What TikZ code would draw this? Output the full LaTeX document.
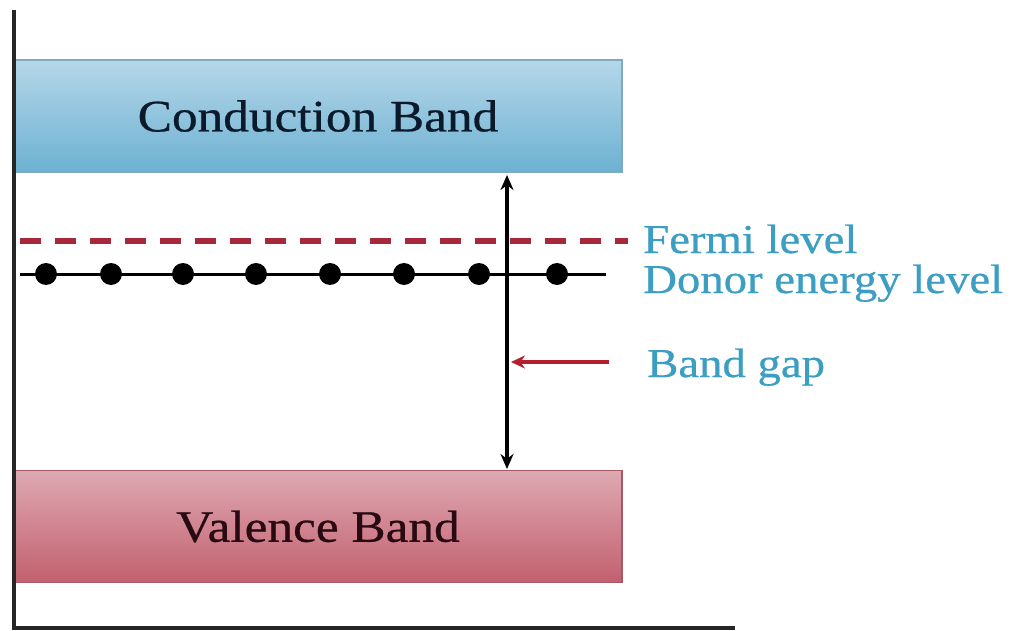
\documentclass[tikz,border=0pt]{standalone}
\usepackage{fontspec}
\setmainfont{Liberation Serif}[FakeStretch=1.14, FakeBold=0.6]
\usetikzlibrary{arrows.meta}
\definecolor{cbTop}{HTML}{B5D7E9}
\definecolor{cbBot}{HTML}{6DB1D2}
\definecolor{cbEdge}{HTML}{7EA9BE}
\definecolor{vbTop}{HTML}{DEA9B2}
\definecolor{vbBot}{HTML}{C2606F}
\definecolor{vbEdge}{HTML}{A45A66}
\definecolor{lblBlue}{HTML}{3B9EC2}
\definecolor{fermiRed}{HTML}{A8283B}
\definecolor{gapRed}{HTML}{B51E2B}
\definecolor{cbText}{HTML}{0B1A2A}
\definecolor{vbText}{HTML}{2A0A12}
\begin{document}
\begin{tikzpicture}[x=1pt,y=-1pt,
  band/.style={draw, line width=1.5pt, minimum width=608pt, minimum height=112pt, inner sep=0pt,
     font=\fontsize{45}{50}\selectfont},
  axis/.style={line width=3.5pt, draw=black!85},
  lbl/.style={text=lblBlue, font=\fontsize{41}{46}\selectfont, inner sep=0pt, anchor=base west},
  dot/.style={circle, fill=black, minimum size=22pt, inner sep=0pt},
  fermiline/.style={draw=fermiRed, line width=5.5pt, dash pattern=on 21pt off 14pt},
  donorline/.style={draw=black, line width=3pt},
  gaparr/.style={draw=black, line width=3.4pt, {Stealth[length=15pt,width=13pt]}-{Stealth[length=15pt,width=13pt]}},
  redarr/.style={draw=gapRed, line width=4pt, -{Stealth[length=14pt,width=13pt]}}
]
\useasboundingbox (0,0) rectangle (1014,631);
\fill[white] (0,0) rectangle (1014,631);
% bands
\node[band, draw=cbEdge, top color=cbTop, bottom color=cbBot, text=cbText] (cb) at (318,116) {Conduction Band};
\node[band, draw=vbEdge, top color=vbTop, bottom color=vbBot, text=vbText] (vb) at (318,526.5) {Valence Band};
% axes
\coordinate (axTop) at (14,10);
\coordinate (axCorner) at (14,628);
\coordinate (axRight) at (735,628);
\draw[axis] (axTop) -- (axCorner) -- (axRight);
% Fermi level
\coordinate (fL) at (20,241);
\coordinate (fR) at (628,241);
\draw[fermiline] (fL) -- (fR);
% donor level
\coordinate (dL) at (20,274);
\coordinate (dR) at (606,274);
\draw[donorline] (dL) -- (dR);
\foreach \i/\x in {1/46,2/111,3/183,4/256,5/330,6/404,7/479,8/557}
  \node[dot] (d\i) at (\x,274) {};
% band gap arrow
\coordinate (gTop) at (507,175);
\coordinate (gBot) at (507,469);
\draw[gaparr] (gTop) -- (gBot);
% labels
\node[lbl] (fermi) at (643,253) {Fermi level};
\node[lbl] (donor) at (643,293) {Donor energy level};
\node[lbl] (bg) at (647,377) {Band gap};
\coordinate (rS) at (609,362);
\coordinate (rE) at (511,362);
\draw[redarr] (rS) -- (rE);
\end{tikzpicture}
\end{document}
